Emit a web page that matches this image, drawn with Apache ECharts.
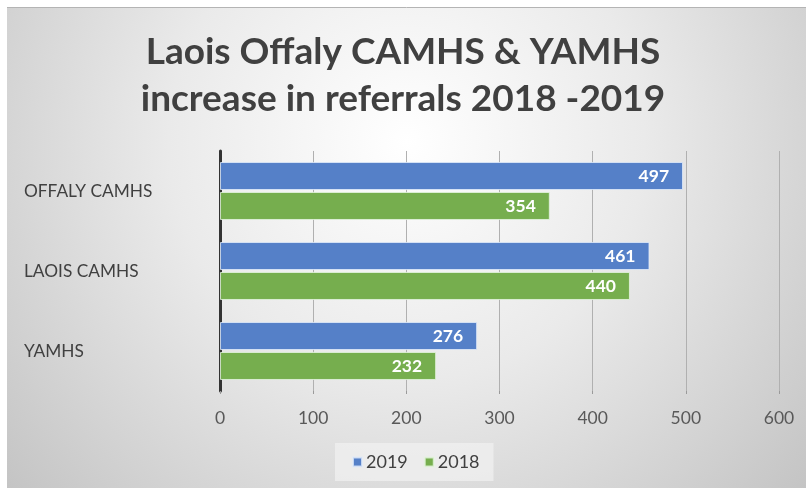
<!DOCTYPE html>
<html>
<head>
<meta charset="utf-8">
<script src="https://cdn.jsdelivr.net/npm/echarts@6/dist/echarts.min.js"></script>
<style>
html,body{margin:0;padding:0;background:#ffffff;}
#chart{width:806px;height:488px;}
</style>
</head>
<body>
<div id="chart"></div>
<script>
const titleLines = ['Laois Offaly CAMHS & YAMHS', 'increase in referrals 2018 -2019'];
const categories = ['OFFALY CAMHS', 'LAOIS CAMHS', 'YAMHS'];
const seriesNames = ['2019', '2018'];
const values2019 = [497, 461, 276];
const values2018 = [354, 440, 232];
const xTicks = [0, 100, 200, 300, 400, 500, 600];

const chart = echarts.init(document.getElementById('chart'), null, {renderer: 'canvas'});
const FONT = 'Lato';
const labelStyle = {
  show: true,
  position: 'insideRight',
  distance: 14,
  color: '#ffffff',
  fontFamily: FONT,
  fontWeight: 'bold',
  fontSize: 17.5
};
chart.setOption({
  animation: false,
  graphic: {
    elements: [
      {
        type: 'rect', z: -100, silent: true,
        shape: {x: 7, y: 7, width: 799, height: 481},
        style: {
          fill: {
            type: 'radial', x: 0.5, y: 0.28, r: 1.1,
            colorStops: [
              {offset: 0, color: '#ffffff'},
              {offset: 0.45, color: '#eaeaea'},
              {offset: 1, color: '#c4c4c4'}
            ]
          }
        }
      },
      {
        type: 'line', z: -99, silent: true,
        shape: {x1: 7, y1: 7.5, x2: 806, y2: 7.5},
        style: {stroke: '#b4b4b4', lineWidth: 1}
      }
    ]
  },
  title: {
    text: titleLines.join('\n'),
    left: 'center',
    top: 24,
    textStyle: {
      fontFamily: FONT,
      fontWeight: 'bold',
      fontSize: 37,
      color: '#404040',
      lineHeight: 47
    }
  },
  legend: {
    data: seriesNames,
    left: 335,
    top: 443,
    padding: [10, 14, 10, 17],
    backgroundColor: 'rgba(240,240,240,0.75)',
    icon: 'rect',
    itemWidth: 9,
    itemHeight: 9,
    itemGap: 16,
    textStyle: {fontFamily: FONT, fontSize: 18, color: '#404040', padding: [0, 0, 0, -1]}
  },
  grid: {left: 220, right: 27, top: 151, bottom: 97, containLabel: false},
  xAxis: {
    type: 'value',
    min: xTicks[0],
    max: xTicks[xTicks.length - 1],
    interval: 100,
    axisLine: {show: false},
    axisTick: {show: true, length: 3, lineStyle: {color: '#9a9a9a', width: 1}},
    splitLine: {show: true, lineStyle: {color: '#b0b0b0', width: 1}},
    axisLabel: {
      margin: 18,
      fontFamily: FONT,
      fontSize: 17.5,
      color: '#595959'
    }
  },
  yAxis: {
    type: 'category',
    data: categories,
    inverse: true,
    axisLine: {show: true, lineStyle: {color: '#333333', width: 3}},
    axisTick: {show: false},
    axisLabel: {
      align: 'left',
      margin: 196,
      fontFamily: FONT,
      fontSize: 17.3,
      color: '#404040'
    }
  },
  series: [
    {
      name: seriesNames[0],
      type: 'bar',
      data: values2019,
      barWidth: 28,
      barGap: '7%',
      itemStyle: {color: '#5580c8', borderColor: 'rgba(225,235,250,0.8)', borderWidth: 1},
      label: labelStyle
    },
    {
      name: seriesNames[1],
      type: 'bar',
      data: values2018,
      barWidth: 28,
      barGap: '7%',
      itemStyle: {color: '#76ae4e', borderColor: 'rgba(230,245,225,0.8)', borderWidth: 1},
      label: labelStyle
    }
  ]
});
</script>
</body>
</html>
